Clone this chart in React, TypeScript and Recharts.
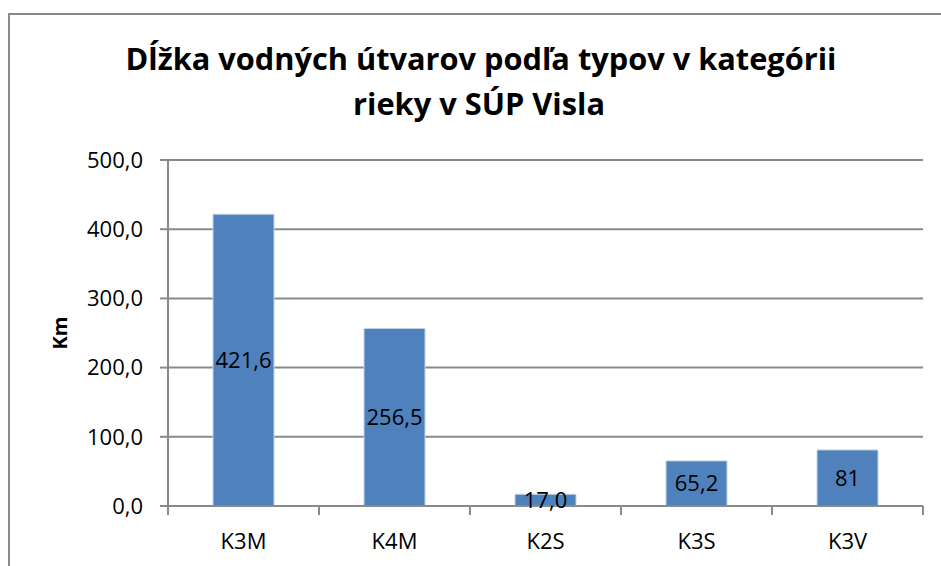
import { BarChart, Bar, XAxis, YAxis, CartesianGrid, LabelList } from 'recharts'

const categories = ['K3M', 'K4M', 'K2S', 'K3S', 'K3V']
const lengths = [421.6, 256.5, 17.0, 65.2, 81]
const valueLabels = ['421,6', '256,5', '17,0', '65,2', '81']
const yTicks = [0, 100, 200, 300, 400, 500]
const titleLines = ['Dĺžka vodných útvarov podľa typov v kategórii', 'rieky v SÚP Visla']

const data = categories.map((name, i) => ({ name, km: lengths[i], label: valueLabels[i] }))

const FONT = '"Open Sans", "DejaVu Sans", sans-serif'
const GRAY = '#8a8a8a'
const PLOT_LEFT = 168
const PLOT_RIGHT = 923
const PLOT_BOTTOM = 506
const BAND = (PLOT_RIGHT - PLOT_LEFT) / categories.length

const formatTick = (v: number) => v.toFixed(1).replace('.', ',')

function CategoryTick(props: any) {
  const { x, payload, index } = props
  const half = BAND / 2
  return (
    <g>
      <line x1={x - half} x2={x - half} y1={PLOT_BOTTOM} y2={PLOT_BOTTOM + 9} stroke={GRAY} strokeWidth={2} />
      {index === categories.length - 1 && (
        <line x1={x + half} x2={x + half} y1={PLOT_BOTTOM} y2={PLOT_BOTTOM + 9} stroke={GRAY} strokeWidth={2} />
      )}
      <text x={x} y={549} textAnchor="middle" fontSize={22} fontFamily={FONT} fill="#000">
        {payload.value}
      </text>
    </g>
  )
}

export default function App() {
  return (
    <div
      style={{
        position: 'absolute',
        left: 0,
        top: 0,
        width: 941,
        height: 566,
        overflow: 'hidden',
        background: '#fff',
        fontFamily: FONT,
      }}
    >
      {/* chart frame, cut off on the right and bottom */}
      <div
        style={{
          position: 'absolute',
          left: 8,
          top: 13,
          width: 1000,
          height: 700,
          border: `2px solid ${GRAY}`,
        }}
      />

      {/* title */}
      <svg width={941} height={140} style={{ position: 'absolute', left: 0, top: 0 }}>
        <text x={481} y={70} textAnchor="middle" fontSize={31} fontWeight={700} fontFamily={FONT} fill="#000"
          textLength={711} lengthAdjust="spacingAndGlyphs">
          {titleLines[0]}
        </text>
        <text x={479} y={115} textAnchor="middle" fontSize={31} fontWeight={700} fontFamily={FONT} fill="#000"
          textLength={252} lengthAdjust="spacingAndGlyphs">
          {titleLines[1]}
        </text>
      </svg>

      {/* y axis title */}
      <div
        style={{
          position: 'absolute',
          left: 59,
          top: 333,
          transform: 'translate(-50%, -50%) rotate(-90deg)',
          fontSize: 20,
          fontWeight: 700,
          color: '#000',
        }}
      >
        Km
      </div>

      <div style={{ position: 'absolute', left: 0, top: 0 }}>
        <BarChart
          width={941}
          height={566}
          data={data}
          margin={{ top: 160, right: 941 - PLOT_RIGHT, bottom: 30, left: PLOT_LEFT - 60 }}
          barCategoryGap={0}
        >
          <CartesianGrid vertical={false} stroke={GRAY} strokeWidth={2} />
          <XAxis
            dataKey="name"
            height={30}
            axisLine={{ stroke: GRAY, strokeWidth: 2 }}
            tickLine={false}
            tick={<CategoryTick />}
            interval={0}
          />
          <YAxis
            width={60}
            domain={[0, 500]}
            ticks={yTicks}
            interval={0}
            tickFormatter={formatTick}
            axisLine={{ stroke: GRAY, strokeWidth: 2 }}
            tickLine={{ stroke: GRAY, strokeWidth: 2 }}
            tickSize={8}
            tickMargin={17}
            tick={{ fill: '#000', fontSize: 22, fontFamily: FONT }}
          />
          <Bar dataKey="km" fill="#4F81BD" stroke="#c3d4ea" strokeWidth={1} barSize={61} isAnimationActive={false}>
            <LabelList dataKey="label" position="center" fill="#000" fontSize={22} fontFamily={FONT} />
          </Bar>
        </BarChart>
      </div>
    </div>
  )
}
